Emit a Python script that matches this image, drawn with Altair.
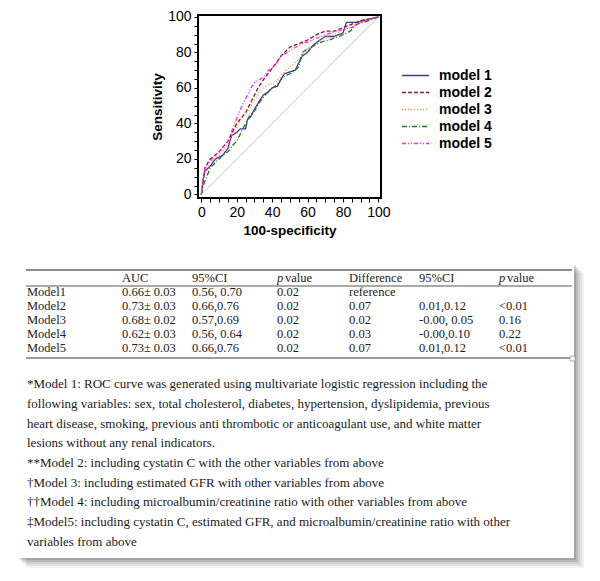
import altair as alt
import pandas as pd

# ---------------- ROC data ----------------
model_names = ["model 1", "model 2", "model 3", "model 4", "model 5"]

m1_x = [0, 1, 2, 5, 8, 12, 15, 17, 20, 22, 25, 26, 28, 30, 33, 35, 38, 40, 43, 45, 47, 50, 53, 55, 57, 60, 63, 67, 70, 75, 80, 82, 88, 92, 100]
m1_y = [0, 8, 13, 16, 20, 22, 26, 33, 35, 37, 37, 42, 44, 48, 53, 56, 58, 60, 61, 65, 68, 69, 70, 74, 78, 80, 84, 87, 89, 89, 91, 97, 97, 98, 100]

m2_x = [0, 1, 2, 5, 10, 15, 20, 25, 28, 32, 36, 40, 45, 50, 55, 60, 65, 70, 75, 80, 85, 90, 95, 100]
m2_y = [0, 8, 15, 20, 24, 30, 40, 46, 52, 60, 66, 71, 78, 83, 85, 87, 90, 92, 92, 94, 96, 98, 99, 100]

m3_x = [0, 1, 2, 5, 10, 15, 18, 20, 23, 27, 30, 33, 35, 38, 42, 45, 50, 55, 58, 62, 65, 70, 75, 80, 85, 90, 100]
m3_y = [0, 8, 14, 18, 22, 28, 35, 38, 44, 48, 53, 58, 60, 62, 63, 67, 72, 76, 80, 83, 85, 89, 90, 93, 95, 97, 100]

m4_x = [0, 1, 3, 5, 8, 12, 15, 18, 20, 23, 25, 27, 30, 33, 36, 40, 43, 46, 50, 53, 55, 57, 60, 64, 68, 72, 78, 84, 88, 92, 100]
m4_y = [0, 5, 10, 15, 18, 22, 24, 28, 30, 36, 40, 44, 47, 52, 56, 60, 62, 66, 68, 70, 72, 80, 82, 84, 86, 87, 89, 92, 96, 97, 100]

m5_x = [0, 1, 2, 5, 10, 15, 18, 22, 25, 28, 30, 35, 38, 42, 45, 50, 55, 60, 65, 70, 80, 85, 90, 95, 100]
m5_y = [0, 8, 15, 19, 24, 30, 38, 48, 54, 60, 63, 66, 70, 73, 78, 81, 84, 86, 88, 90, 93, 94, 97, 99, 100]

line_colors = ["#3a3a9c", "#8b1c1c", "#f08a4b", "#1f7a1f", "#ff22ff"]
line_dashes = [[1, 0], [4, 2], [1, 2], [5, 2, 1, 2], [4, 2, 1, 2, 1, 2]]

diag_x = [0, 100]
diag_y = [0, 100]

# ---------------- Table data ----------------
header = ["", "AUC", "95%CI", "value", "Difference", "95%CI", "value"]
row_models = ["Model1", "Model2", "Model3", "Model4", "Model5"]
auc = ["0.66\u00b1 0.03", "0.73\u00b1 0.03", "0.68\u00b1 0.02", "0.62\u00b1 0.03", "0.73\u00b1 0.03"]
ci = ["0.56, 0.70", "0.66,0.76", "0.57,0.69", "0.56, 0.64", "0.66,0.76"]
pval = ["0.02", "0.02", "0.02", "0.02", "0.02"]
diff = ["reference", "0.07", "0.02", "0.03", "0.07"]
ci2 = ["", "0.01,0.12", "-0.00, 0.05", "-0.00,0.10", "0.01,0.12"]
pval2 = ["", "<0.01", "0.16", "0.22", "<0.01"]

footnotes = [
    "*Model 1: ROC curve was generated using multivariate logistic regression including the",
    "following variables:  sex, total cholesterol, diabetes, hypertension,  dyslipidemia,  previous",
    "heart disease,  smoking, previous anti thrombotic or anticoagulant use,  and white matter",
    "lesions without any renal indicators.",
    "**Model 2: including cystatin C with the other variables from above",
    "\u2020Model 3: including estimated GFR with other variables from above",
    "\u2020\u2020Model 4: including microalbumin/creatinine  ratio with other variables from above",
    "\u2021Model5: including cystatin C, estimated GFR, and microalbumin/creatinine ratio with other",
    "variables from above",
]

# ---------------- ROC chart ----------------
recs = []
for name, xs, ys in zip(model_names, [m1_x, m2_x, m3_x, m4_x, m5_x], [m1_y, m2_y, m3_y, m4_y, m5_y]):
    for i, (a, b) in enumerate(zip(xs, ys)):
        recs.append({"model": name, "fpr": a, "tpr": b, "idx": i})
roc_df = pd.DataFrame(recs)
diag_df = pd.DataFrame({"x": diag_x, "y": diag_y})

xscale = alt.Scale(domain=[-1.9, 101.5], nice=False, zero=False)
yscale = alt.Scale(domain=[-2, 101.1], nice=False, zero=False)
tick_vals = list(range(0, 101, 5))
lab = "datum.value % 20 == 0 ? datum.label : ''"
SANS = "Liberation Sans"

x_axis = alt.Axis(values=tick_vals, labelExpr=lab, labelOverlap=False, title="100-specificity",
                  domain=False, grid=False, tickSize=4, tickColor="black", tickWidth=1,
                  labelFont=SANS, labelFontSize=14, labelColor="black", labelPadding=3,
                  titleFont=SANS, titleFontSize=13.5, titleFontWeight="bold", titleColor="black",
                  titlePadding=4)
y_axis = alt.Axis(values=tick_vals, labelExpr=lab, labelOverlap=False, title="Sensitivity",
                  domain=False, grid=False, tickSize=4, tickColor="black", tickWidth=1,
                  labelFont=SANS, labelFontSize=14, labelColor="black", labelPadding=3,
                  titleFont=SANS, titleFontSize=13.5, titleFontWeight="bold", titleColor="black",
                  titlePadding=3)

diag = alt.Chart(diag_df).mark_line(color="#c3abab", strokeWidth=0.8).encode(
    x=alt.X("x:Q", scale=xscale, axis=x_axis),
    y=alt.Y("y:Q", scale=yscale, axis=y_axis),
)

leg = alt.Legend(title=None, orient="none", legendX=384, legendY=52, symbolType="stroke",
                 symbolSize=729, symbolStrokeWidth=1.4, labelFont=SANS, labelFontSize=14,
                 labelFontWeight="bold", labelColor="black", clipHeight=17, rowPadding=0,
                 labelOffset=9)

lines = alt.Chart(roc_df).mark_line(strokeWidth=1.3).encode(
    x=alt.X("fpr:Q", scale=xscale, axis=x_axis),
    y=alt.Y("tpr:Q", scale=yscale, axis=y_axis),
    color=alt.Color("model:N", scale=alt.Scale(domain=model_names, range=line_colors), legend=leg),
    strokeDash=alt.StrokeDash("model:N", scale=alt.Scale(domain=model_names, range=line_dashes), legend=leg),
    order="idx:Q",
)

roc = alt.layer(diag, lines).properties(
    width=183, height=183,
    view=alt.ViewBackground(stroke="black", strokeWidth=2),
)

blank = alt.Chart(pd.DataFrame({"a": [0]})).mark_point(opacity=0).encode(
    x=alt.value(0), y=alt.value(0)
).properties(width=131, height=183)

top = alt.hconcat(blank, roc, spacing=0)

# ---------------- Table chart ----------------
TW, TH = 557, 295
SERIF = "Liberation Serif"
FS = 12.5
one = pd.DataFrame({"a": [0]})

shadows = []
for k, op in [(10, 0.05), (8, 0.06), (6, 0.08), (4, 0.1), (2, 0.12)]:
    shadows.append(
        alt.Chart(one).mark_rect(color="black", opacity=op).encode(
            x=alt.value(k), x2=alt.value(TW + k), y=alt.value(k), y2=alt.value(TH + k)
        )
    )
box = alt.Chart(one).mark_rect(color="white").encode(
    x=alt.value(0), x2=alt.value(TW), y=alt.value(0), y2=alt.value(TH)
)

rule_top = alt.Chart(one).mark_rule(color="#8c8c8c", strokeWidth=2.2).encode(
    x=alt.value(9), x2=alt.value(555), y=alt.value(7))
rule_mid = alt.Chart(one).mark_rule(color="#555555", strokeWidth=1).encode(
    x=alt.value(9), x2=alt.value(555), y=alt.value(23))
rule_bot = alt.Chart(one).mark_rule(color="#7a7a7a", strokeWidth=1.6).encode(
    x=alt.value(9), x2=alt.value(555), y=alt.value(95))
end_box = alt.Chart(one).mark_rect(fill="white", stroke="#999999", strokeWidth=0.8).encode(
    x=alt.value(553), x2=alt.value(558), y=alt.value(93), y2=alt.value(98))

col_x = [10, 105, 175, 260, 332, 402, 482]

rows_df = pd.DataFrame({
    "row": [1, 2, 3, 4, 5],
    "c0": row_models, "c1": auc, "c2": ci, "c3": pval, "c4": diff, "c5": ci2, "c6": pval2,
})
head_df = pd.DataFrame({"row": [0], **{f"h{i}": [h] for i, h in enumerate(header)}})

row_scale = alt.Scale(domain=[0, 5], range=[14.7, 84.7], nice=False, zero=False)

text_layers = []
for i in range(1, 7):
    hx = col_x[i] + (8 if header[i] == "value" else 0)
    text_layers.append(
        alt.Chart(head_df).mark_text(align="left", baseline="middle", font=SERIF, fontSize=FS,
                                     color="#222222").encode(
            x=alt.value(hx), y=alt.Y("row:Q", scale=row_scale, axis=None), text=f"h{i}:N")
    )
    if header[i] == "value":
        text_layers.append(
            alt.Chart(head_df).mark_text(align="left", baseline="middle", font=SERIF, fontSize=FS,
                                         fontStyle="italic", color="#222222", text="p").encode(
                x=alt.value(col_x[i]), y=alt.Y("row:Q", scale=row_scale, axis=None))
        )
for i in range(7):
    text_layers.append(
        alt.Chart(rows_df).mark_text(align="left", baseline="middle", font=SERIF, fontSize=FS,
                                     color="#222222").encode(
            x=alt.value(col_x[i]), y=alt.Y("row:Q", scale=row_scale, axis=None), text=f"c{i}:N")
    )

foot_df = pd.DataFrame({"line": list(range(len(footnotes))), "txt": footnotes})
foot = alt.Chart(foot_df).mark_text(align="left", baseline="middle", font=SERIF, fontSize=13,
                                    color="#1a1a1a").encode(
    x=alt.value(10),
    y=alt.Y("line:Q", scale=alt.Scale(domain=[0, 8], range=[121.3, 278.7], nice=False, zero=False), axis=None),
    text="txt:N",
)

table = alt.layer(*shadows, box, rule_top, rule_mid, rule_bot, end_box, *text_layers, foot).resolve_scale(
    y="independent"
).properties(width=TW, height=TH)

chart = alt.vconcat(top, table, spacing=24).properties(
    padding={"left": 5, "top": 0, "right": 0, "bottom": 0}
).configure_view(stroke="transparent")

chart.save("out.html", embed_options={"renderer": "svg", "actions": False})
